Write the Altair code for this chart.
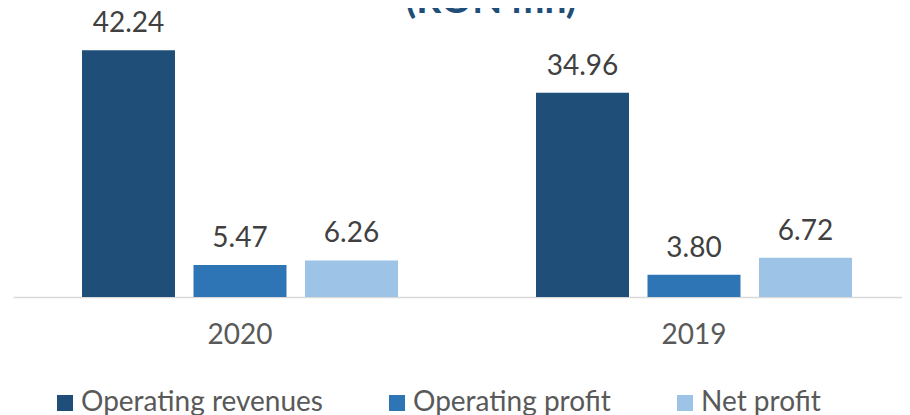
import altair as alt
import pandas as pd

years = ["2020", "2019"]
series = ["Operating revenues", "Operating profit", "Net profit"]
values_2020 = [42.24, 5.47, 6.26]
values_2019 = [34.96, 3.80, 6.72]
colors = ["#1F4E79", "#2E75B6", "#9DC3E6"]
title_text = "(RON mn)"

rows = []
for y, vals in zip(years, [values_2020, values_2019]):
    for s, v in zip(series, vals):
        rows.append({"year": y, "series": s, "value": v, "label": f"{v:.2f}"})
df = pd.DataFrame(rows)

FONT = "Lato"
TXT = "#404040"
GREY = "#595959"

base = alt.Chart(df).encode(
    x=alt.X(
        "year:N",
        sort=years,
        scale=alt.Scale(range=[0, 908], paddingInner=0.304, paddingOuter=0.152),
        axis=alt.Axis(
            title=None, labelAngle=0, ticks=False, grid=False,
            domainColor="#D9D9D9", domainWidth=1.5,
            labelFont=FONT, labelFontSize=28, labelColor=GREY, labelPadding=24,
        ),
    ),
    xOffset=alt.XOffset("series:N", sort=series,
                        scale=alt.Scale(paddingInner=0.166, paddingOuter=0)),
    y=alt.Y("value:Q", scale=alt.Scale(domain=[0, 45]), axis=None),
)

bars = base.mark_bar().encode(
    color=alt.Color(
        "series:N", sort=series,
        scale=alt.Scale(domain=series, range=colors),
        legend=alt.Legend(
            orient="none", legendX=38, legendY=355, direction="horizontal",
            title=None, symbolType="square", symbolSize=256, symbolStrokeWidth=0,
            labelFont=FONT, labelFontSize=28, labelColor=GREY, labelOffset=2,
            columnPadding=60, labelLimit=400,
        ),
    )
)

text = base.mark_text(baseline="alphabetic", dy=-18, font=FONT, fontSize=28,
                      color=TXT).encode(text="label:N")

title = alt.Chart(pd.DataFrame({"t": [title_text]})).mark_text(
    font=FONT, fontSize=39, fontWeight="bold", color="#1F4E79",
    baseline="alphabetic", align="center",
).encode(x=alt.value(478), y=alt.value(-21), text="t:N")

chart = (bars + text + title).properties(
    width=889, height=263,
    autosize=alt.AutoSizeParams(type="none"),
    padding={"left": 5, "top": 26, "right": 0, "bottom": 118},
).configure_view(stroke=None)

chart.save("out.html", embed_options={"renderer": "svg", "actions": False})
